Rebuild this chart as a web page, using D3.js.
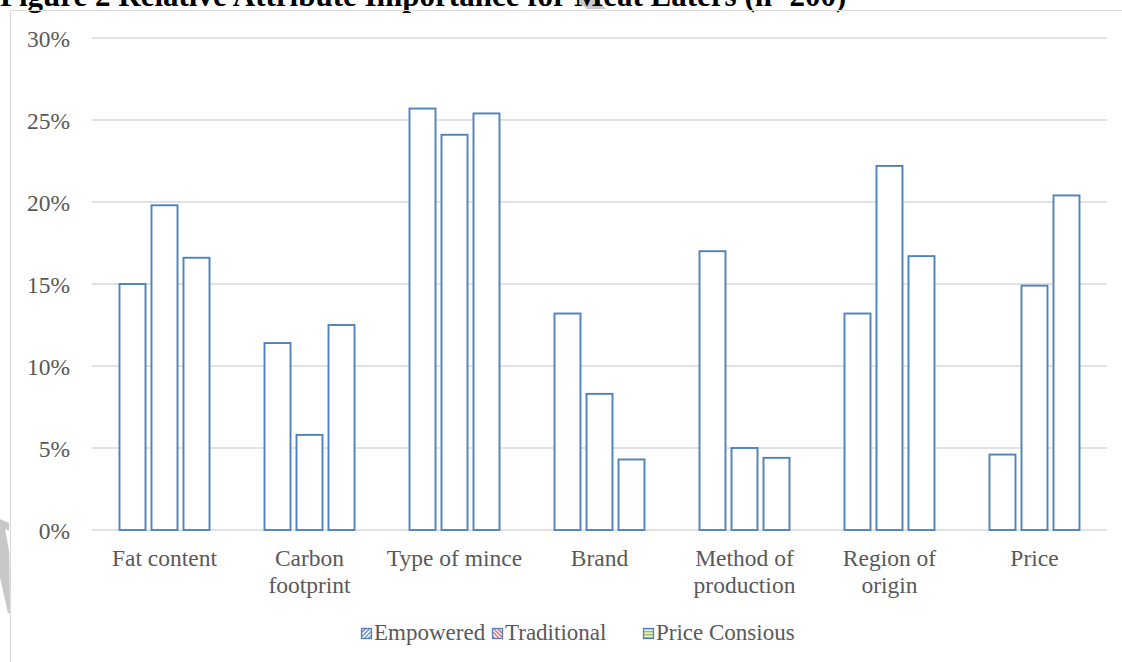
<!DOCTYPE html>
<html>
<head>
<meta charset="utf-8">
<script src="https://cdn.jsdelivr.net/npm/d3@7"></script>
<style>
  html, body { margin: 0; padding: 0; background: #fff; overflow: hidden; }
  svg { display: block; }
</style>
</head>
<body>
<svg id="chart" width="1122" height="662"></svg>
<script>
// Relative attribute importance by consumer segment (meat eaters)
const categories = [
  ["Fat content"],
  ["Carbon", "footprint"],
  ["Type of mince"],
  ["Brand"],
  ["Method of", "production"],
  ["Region of", "origin"],
  ["Price"]
];
const seriesNames = ["Empowered", "Traditional", "Price Consious"];
const empowered   = [15.0, 11.4, 25.7, 13.2, 17.0, 13.2, 4.6];
const traditional = [19.8, 5.8, 24.1, 8.3, 5.0, 22.2, 14.9];
const priceConsious = [16.6, 12.5, 25.4, 4.3, 4.4, 16.7, 20.4];
const yTicks = [0, 5, 10, 15, 20, 25, 30];
const titleText = "Figure 2 Relative Attribute Importance for Meat Eaters (n=200)";

const seriesValues = [empowered, traditional, priceConsious];
const svg = d3.select("#chart");
const serif = "'Liberation Serif', 'Times New Roman', serif";
const textGray = "#595959";
const barBlue = "#4f81bd";

const plot = { left: 92, right: 1107, top: 38, bottom: 530 };

// hatch patterns for the legend keys
const defs = svg.append("defs");
const p1 = defs.append("pattern").attr("id", "hatchEmp").attr("patternUnits", "userSpaceOnUse")
  .attr("width", 3).attr("height", 3).attr("patternTransform", "rotate(45)");
p1.append("rect").attr("width", 3).attr("height", 3).attr("fill", "#fff");
p1.append("rect").attr("width", 1.3).attr("height", 3).attr("fill", "#4f81bd");
const p2 = defs.append("pattern").attr("id", "hatchTrad").attr("patternUnits", "userSpaceOnUse")
  .attr("width", 3).attr("height", 3).attr("patternTransform", "rotate(-45)");
p2.append("rect").attr("width", 3).attr("height", 3).attr("fill", "#fff");
p2.append("rect").attr("width", 1.3).attr("height", 3).attr("fill", "#d9534f");
const p3 = defs.append("pattern").attr("id", "hatchPrice").attr("patternUnits", "userSpaceOnUse")
  .attr("width", 3).attr("height", 3);
p3.append("rect").attr("width", 3).attr("height", 3).attr("fill", "#eef4dc");
p3.append("rect").attr("width", 3).attr("height", 1.4).attr("fill", "#9bbb59");
const legendFills = ["url(#hatchEmp)", "url(#hatchTrad)", "url(#hatchPrice)"];

// faint watermark fragments behind the figure
svg.append("polygon")
  .attr("points", "576,0 597,0 606,9 587,9")
  .attr("fill", "#c8c8c8");
svg.append("polygon")
  .attr("points", "0,519 9,523 10,613 8,613 0,578")
  .attr("fill", "#c8c8c8");
svg.append("polygon")
  .attr("points", "5,529 10,531 10,556")
  .attr("fill", "#ffffff");

// figure caption, partly above the top edge
svg.append("text")
  .attr("x", 0).attr("y", 6)
  .attr("font-family", serif).attr("font-weight", "bold").attr("font-size", 31)
  .attr("fill", "#000")
  .text(titleText);

// chart frame
svg.append("rect")
  .attr("x", 10.5).attr("y", 10.5).attr("width", 1130).attr("height", 670)
  .attr("fill", "none").attr("stroke", "#d9d9d9").attr("stroke-width", 1);

// scales
const x0 = d3.scaleBand()
  .domain(d3.range(categories.length))
  .range([plot.left, plot.right])
  .paddingInner(0).paddingOuter(0);
const groupSpan = 90;
const x1 = d3.scaleBand()
  .domain(d3.range(seriesNames.length))
  .range([(x0.bandwidth() - groupSpan) / 2, (x0.bandwidth() + groupSpan) / 2])
  .paddingInner(0.1875).paddingOuter(0);
const y = d3.scaleLinear().domain([0, 30]).range([plot.bottom, plot.top]);

// gridlines
svg.append("g")
  .selectAll("line")
  .data(yTicks)
  .join("line")
  .attr("x1", plot.left).attr("x2", plot.right)
  .attr("y1", d => y(d)).attr("y2", d => y(d))
  .attr("stroke", "#d9d9d9").attr("stroke-width", 1.5);

// y axis labels
const yAxis = d3.axisLeft(y).tickValues(yTicks).tickFormat(d => d + "%").tickSize(0).tickPadding(0);
const yg = svg.append("g").attr("transform", `translate(${70},0)`).call(yAxis);
yg.select(".domain").remove();
yg.selectAll("text")
  .attr("font-family", serif).attr("font-size", 23.5).attr("fill", textGray)
  .attr("dy", "0.35em");

// bars
const groups = svg.append("g")
  .selectAll("g")
  .data(categories.map((c, i) => i))
  .join("g")
  .attr("transform", i => `translate(${x0(i)},0)`);
groups.selectAll("rect")
  .data(i => seriesValues.map((vals, s) => ({ s, v: vals[i] })))
  .join("rect")
  .attr("x", d => x1(d.s))
  .attr("y", d => y(d.v))
  .attr("width", x1.bandwidth())
  .attr("height", d => y(0) - y(d.v))
  .attr("fill", "#fff")
  .attr("stroke", barBlue)
  .attr("stroke-width", 1.9);

// category labels
const xLabels = svg.append("g")
  .selectAll("text")
  .data(categories.map((c, i) => ({ c, i })))
  .join("text")
  .attr("x", d => x0(d.i) + x0.bandwidth() / 2)
  .attr("y", 566)
  .attr("text-anchor", "middle")
  .attr("font-family", serif).attr("font-size", 23.5).attr("fill", textGray);
xLabels.selectAll("tspan")
  .data(d => d.c.map((line, k) => ({ line, k, x: x0(d.i) + x0.bandwidth() / 2 })))
  .join("tspan")
  .attr("x", d => d.x)
  .attr("dy", d => d.k === 0 ? 0 : 27)
  .text(d => d.line);

// legend
const legendX = [361, 492, 643];
const legend = svg.append("g")
  .selectAll("g")
  .data(seriesNames.map((n, i) => ({ n, i })))
  .join("g")
  .attr("transform", d => `translate(${legendX[d.i]},${628})`);
legend.append("rect")
  .attr("x", 0.5).attr("y", 0.5).attr("width", 10).attr("height", 10)
  .attr("fill", d => legendFills[d.i])
  .attr("stroke", barBlue).attr("stroke-width", 1.3);
legend.append("text")
  .attr("x", 13).attr("y", 12)
  .attr("font-family", serif).attr("font-size", 23).attr("fill", textGray)
  .text(d => d.n);
</script>
</body>
</html>
